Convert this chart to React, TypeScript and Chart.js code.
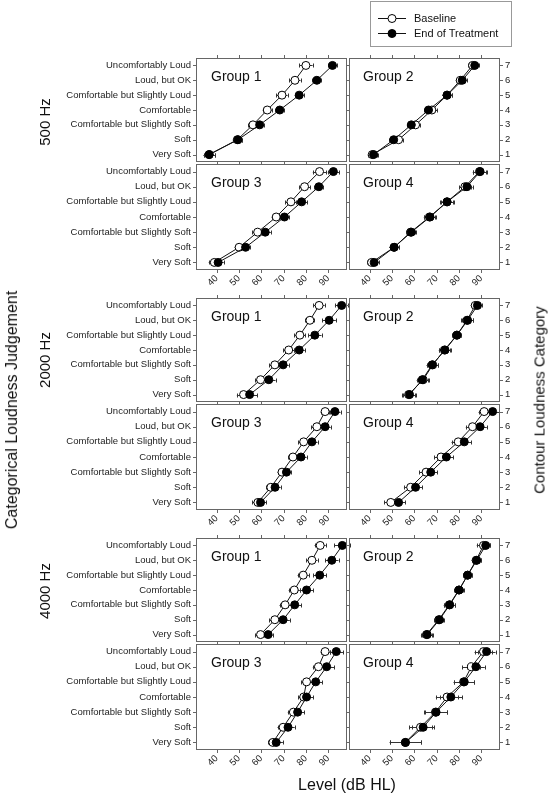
import React, { useEffect, useRef } from 'react';
import { Chart, registerables } from 'chart.js';

Chart.register(...registerables);

const FONT = '"Liberation Sans", Arial, Helvetica, sans-serif';
Chart.defaults.font.family = FONT;

// ---------- data ----------
const categoryLabels = [
  'Very Soft',
  'Soft',
  'Comfortable but Slightly Soft',
  'Comfortable',
  'Comfortable but Slightly Loud',
  'Loud, but OK',
  'Uncomfortably Loud',
];
const categoryNumbers = [1, 2, 3, 4, 5, 6, 7];
const levelTicks = [40, 50, 60, 70, 80, 90];
const frequencies = ['500 Hz', '2000 Hz', '4000 Hz'];
const groupNames = ['Group 1', 'Group 2', 'Group 3', 'Group 4'];
const seriesNames = ['Baseline', 'End of Treatment'];

// 500 Hz
const base500G1 = [36.7, 49.3, 56.3, 62.7, 69.3, 75.1, 80.0];
const end500G1 = [36.7, 49.6, 59.3, 68.3, 77.0, 84.9, 91.9];
const base500G2 = [41.2, 53.0, 60.6, 67.9, 74.7, 80.6, 86.1];
const end500G2 = [41.8, 50.8, 58.7, 66.4, 74.7, 81.5, 87.1];
const base500G3 = [39.0, 50.1, 58.4, 66.7, 73.3, 79.4, 86.1];
const end500G3 = [40.7, 53.0, 61.8, 70.4, 78.1, 85.8, 92.3];
const base500G4 = [40.9, 51.0, 58.4, 66.8, 74.7, 82.7, 89.2];
const end500G4 = [42.1, 51.0, 58.7, 67.1, 74.7, 83.6, 89.5];
// 2000 Hz
const base2000G1 = [52.1, 59.7, 66.1, 72.3, 77.3, 81.8, 85.9];
const end2000G1 = [54.8, 63.4, 69.8, 77.0, 84.0, 90.4, 96.0];
const base2000G2 = [57.5, 64.0, 68.3, 73.5, 79.1, 83.6, 87.3];
const end2000G2 = [57.9, 63.6, 68.0, 73.8, 79.1, 83.9, 88.3];
const base2000G3 = [58.5, 64.3, 69.3, 74.2, 79.0, 84.9, 88.6];
const end2000G3 = [59.7, 66.2, 71.3, 77.8, 82.7, 88.6, 93.0];
const base2000G4 = [49.5, 58.4, 65.3, 72.0, 79.7, 86.1, 91.3];
const end2000G4 = [53.0, 60.6, 67.4, 74.4, 82.4, 89.5, 95.1];
// 4000 Hz
const base4000G1 = [59.7, 66.1, 70.7, 74.8, 78.8, 82.7, 86.4];
const end4000G1 = [63.1, 69.8, 75.0, 80.3, 86.2, 91.6, 96.3];
const base4000G2 = [65.5, 71.0, 75.7, 80.0, 83.9, 87.7, 91.0];
const end4000G2 = [65.8, 71.3, 75.9, 80.1, 83.9, 88.0, 92.0];
const base4000G3 = [65.2, 69.8, 74.4, 79.0, 80.3, 85.6, 88.6];
const end4000G3 = [66.7, 72.0, 76.3, 80.3, 84.4, 89.3, 93.6];
const base4000G4 = [56.0, 62.8, 69.5, 74.7, 82.1, 85.6, 91.0];
const end4000G4 = [56.1, 64.0, 69.8, 76.4, 82.4, 87.6, 92.4];

// error bar half-widths (dB)
const baseErr500G1 = [2.5, 2, 2, 2, 2.5, 2.5, 3];
const endErr500G1 = [2.5, 2, 2, 2, 2, 2, 2];
const baseErr500G2 = [2, 2, 2, 2.5, 2, 2, 2];
const endErr500G2 = [2, 2, 2, 2, 2, 2, 2];
const baseErr500G3 = [2.5, 2, 2.5, 2, 2.5, 2.5, 3];
const endErr500G3 = [2.5, 2, 2.5, 2, 2.5, 2, 2.5];
const baseErr500G4 = [2, 2, 2, 2.5, 2.5, 2.5, 3];
const endErr500G4 = [2, 2, 2, 2.5, 3, 2.5, 3];
const baseErr2000G1 = [3, 2.5, 2.5, 2.5, 2.5, 2, 2.5];
const endErr2000G1 = [3.5, 3, 2.5, 2.5, 3, 3, 3];
const baseErr2000G2 = [3, 2.5, 2.5, 2.5, 2, 2.5, 2];
const endErr2000G2 = [3, 2.5, 2.5, 2.5, 2, 2.5, 2];
const baseErr2000G3 = [2.5, 2, 2, 2, 2.5, 2.5, 2];
const endErr2000G3 = [2.5, 2.5, 2, 2.5, 2.5, 2.5, 2.5];
const baseErr2000G4 = [3, 3, 3, 3, 3, 3, 2.5];
const endErr2000G4 = [3, 3, 3, 3, 3, 3, 3];
const baseErr4000G1 = [2.5, 2.5, 2.5, 2.5, 2.5, 2.5, 2.5];
const endErr4000G1 = [2, 3, 3, 3, 3, 3, 3.5];
const baseErr4000G2 = [2.5, 2, 2.5, 2, 2, 2, 3];
const endErr4000G2 = [2.5, 2, 2.5, 2, 2, 2, 2];
const baseErr4000G3 = [2, 2.5, 2.5, 2.5, 2.5, 2.5, 2];
const endErr4000G3 = [3, 3, 3, 3, 3, 3.5, 3];
const baseErr4000G4 = [7, 5, 5, 5, 4.5, 4, 4];
const endErr4000G4 = [7, 5, 5, 5, 4.5, 4, 4];

// ---------- layout constants ----------
const X_MIN = 30.8;
const X_MAX = 98.4;
const BLOCK_TOPS = [57, 297, 537];
const TOP_H = 106;
const BOT_H = 107;
const LEFT_PLOT_X = 196;
const PLOT_W = 152;
const PAD = 4;
const RIGHT_AXIS_W = 52;
const X_AXIS_H = 26;
const LINE_COLOR = '#111';
const FRAME_COLOR = '#666';

type PanelSpec = {
  block: number;
  row: number;
  col: number;
  group: string;
  base: number[];
  end: number[];
  baseErr: number[];
  endErr: number[];
};

const panels: PanelSpec[] = [
  { block: 0, row: 0, col: 0, group: groupNames[0], base: base500G1, end: end500G1, baseErr: baseErr500G1, endErr: endErr500G1 },
  { block: 0, row: 0, col: 1, group: groupNames[1], base: base500G2, end: end500G2, baseErr: baseErr500G2, endErr: endErr500G2 },
  { block: 0, row: 1, col: 0, group: groupNames[2], base: base500G3, end: end500G3, baseErr: baseErr500G3, endErr: endErr500G3 },
  { block: 0, row: 1, col: 1, group: groupNames[3], base: base500G4, end: end500G4, baseErr: baseErr500G4, endErr: endErr500G4 },
  { block: 1, row: 0, col: 0, group: groupNames[0], base: base2000G1, end: end2000G1, baseErr: baseErr2000G1, endErr: endErr2000G1 },
  { block: 1, row: 0, col: 1, group: groupNames[1], base: base2000G2, end: end2000G2, baseErr: baseErr2000G2, endErr: endErr2000G2 },
  { block: 1, row: 1, col: 0, group: groupNames[2], base: base2000G3, end: end2000G3, baseErr: baseErr2000G3, endErr: endErr2000G3 },
  { block: 1, row: 1, col: 1, group: groupNames[3], base: base2000G4, end: end2000G4, baseErr: baseErr2000G4, endErr: endErr2000G4 },
  { block: 2, row: 0, col: 0, group: groupNames[0], base: base4000G1, end: end4000G1, baseErr: baseErr4000G1, endErr: endErr4000G1 },
  { block: 2, row: 0, col: 1, group: groupNames[1], base: base4000G2, end: end4000G2, baseErr: baseErr4000G2, endErr: endErr4000G2 },
  { block: 2, row: 1, col: 0, group: groupNames[2], base: base4000G3, end: end4000G3, baseErr: baseErr4000G3, endErr: endErr4000G3 },
  { block: 2, row: 1, col: 1, group: groupNames[3], base: base4000G4, end: end4000G4, baseErr: baseErr4000G4, endErr: endErr4000G4 },
];

function geometry(p: PanelSpec) {
  const isLeft = p.col === 0;
  const isBottom = p.row === 1;
  const plotTop = BLOCK_TOPS[p.block] + (isBottom ? TOP_H : 0);
  const plotH = isBottom ? BOT_H : TOP_H;
  const plotLeft = isLeft ? LEFT_PLOT_X : LEFT_PLOT_X + PLOT_W;
  const canvasLeft = isLeft ? 0 : plotLeft - PAD;
  const canvasWidth = isLeft ? LEFT_PLOT_X + PLOT_W + PAD : PAD + PLOT_W + RIGHT_AXIS_W;
  const canvasTop = plotTop - PAD;
  const canvasHeight = PAD + plotH + (isBottom ? X_AXIS_H : PAD);
  return { isLeft, isBottom, plotTop, plotH, plotLeft, canvasLeft, canvasWidth, canvasTop, canvasHeight };
}

const errorBarPlugin = {
  id: 'errorBars',
  beforeDatasetsDraw(chart: any) {
    const { ctx, scales } = chart;
    const xs = scales.x;
    const ys = scales.y;
    ctx.save();
    ctx.strokeStyle = '#333';
    ctx.lineWidth = 1;
    chart.data.datasets.forEach((ds: any) => {
      ds.data.forEach((pt: any, i: number) => {
        const e = ds.errors[i];
        const x1 = xs.getPixelForValue(pt.x - e);
        const x2 = xs.getPixelForValue(pt.x + e);
        const py = Math.round(ys.getPixelForValue(pt.y)) + 0.5;
        ctx.beginPath();
        ctx.moveTo(x1, py);
        ctx.lineTo(x2, py);
        ctx.moveTo(Math.round(x1) + 0.5, py - 2);
        ctx.lineTo(Math.round(x1) + 0.5, py + 2);
        ctx.moveTo(Math.round(x2) + 0.5, py - 2);
        ctx.lineTo(Math.round(x2) + 0.5, py + 2);
        ctx.stroke();
      });
    });
    ctx.restore();
  },
};

const framePlugin = {
  id: 'frame',
  afterDraw(chart: any) {
    const { ctx, chartArea, scales } = chart;
    const { left, right, top, bottom } = chartArea;
    const xs = scales.x;
    const ys = scales.y;
    ctx.save();
    ctx.strokeStyle = FRAME_COLOR;
    ctx.lineWidth = 1;
    ctx.strokeRect(left + 0.5, top + 0.5, right - left - 1, bottom - top - 1);
    ctx.beginPath();
    const T = 3;
    levelTicks.forEach((v) => {
      const px = Math.round(xs.getPixelForValue(v)) + 0.5;
      ctx.moveTo(px, top);
      ctx.lineTo(px, top - T);
      ctx.moveTo(px, bottom);
      ctx.lineTo(px, bottom + T);
    });
    categoryNumbers.forEach((v) => {
      const py = Math.round(ys.getPixelForValue(v)) + 0.5;
      ctx.moveTo(left, py);
      ctx.lineTo(left - T, py);
      ctx.moveTo(right, py);
      ctx.lineTo(right + T, py);
    });
    ctx.stroke();
    ctx.restore();
  },
};

function Panel({ spec }: { spec: PanelSpec }) {
  const ref = useRef<HTMLCanvasElement>(null);
  const g = geometry(spec);
  useEffect(() => {
    if (!ref.current) return;
    const isLeft = g.isLeft;
    const isBottom = g.isBottom;
    const chart = new Chart(ref.current, {
      type: 'line',
      data: {
        datasets: [
          {
            label: seriesNames[1],
            data: spec.end.map((x, i) => ({ x, y: categoryNumbers[i] })),
            errors: spec.endErr,
            borderColor: LINE_COLOR,
            borderWidth: 1,
            pointRadius: 4,
            pointBackgroundColor: '#000',
            pointBorderColor: '#000',
            pointBorderWidth: 1,
            tension: 0,
          } as any,
          {
            label: seriesNames[0],
            data: spec.base.map((x, i) => ({ x, y: categoryNumbers[i] })),
            errors: spec.baseErr,
            borderColor: LINE_COLOR,
            borderWidth: 1,
            pointRadius: 4,
            pointBackgroundColor: '#fff',
            pointBorderColor: '#000',
            pointBorderWidth: 1,
            tension: 0,
          } as any,
        ],
      },
      options: {
        animation: false,
        responsive: false,
        events: [],
        layout: {
          padding: {
            left: isLeft ? 0 : PAD,
            right: isLeft ? PAD : 0,
            top: PAD,
            bottom: isBottom ? 0 : PAD,
          },
        },
        plugins: { legend: { display: false }, tooltip: { enabled: false } },
        scales: {
          x: {
            type: 'linear',
            min: X_MIN,
            max: X_MAX,
            display: isBottom,
            position: 'bottom',
            afterBuildTicks: (s: any) => {
              s.ticks = levelTicks.map((v) => ({ value: v }));
            },
            afterFit: (s: any) => {
              s.height = isBottom ? X_AXIS_H : 0;
              s.paddingLeft = 0;
              s.paddingRight = 0;
              s.paddingTop = 0;
              s.paddingBottom = 0;
            },
            grid: { display: false, drawTicks: false },
            border: { display: false },
            ticks: {
              autoSkip: false,
              minRotation: 45,
              maxRotation: 45,
              padding: 3,
              color: '#222',
              font: { size: 9.5 },
              callback: (v: any) => String(v),
            },
          },
          y: {
            type: 'linear',
            min: 0.5,
            max: 7.5,
            position: isLeft ? 'left' : 'right',
            afterBuildTicks: (s: any) => {
              s.ticks = categoryNumbers.map((v) => ({ value: v }));
            },
            afterFit: (s: any) => {
              s.width = isLeft ? LEFT_PLOT_X : RIGHT_AXIS_W;
              s.paddingTop = 0;
              s.paddingBottom = 0;
              s.paddingLeft = 0;
              s.paddingRight = 0;
            },
            grid: { display: false, drawTicks: false },
            border: { display: false },
            ticks: {
              autoSkip: false,
              padding: 5,
              color: '#222',
              font: { size: 9.5 },
              callback: (v: any) => (isLeft ? categoryLabels[Number(v) - 1] : String(v)),
            },
          },
        },
      } as any,
      plugins: [errorBarPlugin, framePlugin],
    });
    return () => chart.destroy();
  }, []);
  return (
    <>
      <canvas
        ref={ref}
        width={g.canvasWidth}
        height={g.canvasHeight}
        style={{
          position: 'absolute',
          left: g.canvasLeft,
          top: g.canvasTop,
          width: g.canvasWidth,
          height: g.canvasHeight,
        }}
      />
      <div
        style={{
          position: 'absolute',
          left: g.plotLeft + 15,
          top: g.plotTop + 19,
          transform: 'translateY(-50%)',
          fontSize: 14,
          lineHeight: '16px',
          color: '#111',
          whiteSpace: 'nowrap',
        }}
      >
        {spec.group}
      </div>
    </>
  );
}

function RotatedText({ text, cx, cy, size }: { text: string; cx: number; cy: number; size: number }) {
  return (
    <div
      style={{
        position: 'absolute',
        left: cx,
        top: cy,
        transform: 'translate(-50%, -50%) rotate(-90deg)',
        fontSize: size,
        lineHeight: `${size + 2}px`,
        whiteSpace: 'nowrap',
        color: '#111',
      }}
    >
      {text}
    </div>
  );
}

const freqCenters = [122, 360, 591];

export default function App() {
  return (
    <div
      style={{
        position: 'absolute',
        left: 0,
        top: 0,
        width: 552,
        height: 800,
        background: '#fff',
        fontFamily: FONT,
        overflow: 'hidden',
      }}
    >
      {panels.map((p, i) => (
        <Panel key={i} spec={p} />
      ))}
      {frequencies.map((f, i) => (
        <RotatedText key={f} text={f} cx={44} cy={freqCenters[i]} size={15} />
      ))}
      <RotatedText text="Categorical Loudness Judgement" cx={12} cy={410} size={16} />
      <RotatedText text="Contour Loudness Category" cx={539} cy={400} size={15} />
      <div
        style={{
          position: 'absolute',
          left: 347,
          top: 785,
          transform: 'translate(-50%, -50%)',
          fontSize: 16,
          lineHeight: '18px',
          whiteSpace: 'nowrap',
          color: '#111',
        }}
      >
        Level (dB HL)
      </div>
      {/* legend */}
      <div
        style={{
          position: 'absolute',
          left: 370,
          top: 1,
          width: 140,
          height: 44,
          border: '1px solid #999',
          background: '#fff',
        }}
      >
        {seriesNames.map((name, i) => (
          <div
            key={name}
            style={{
              position: 'absolute',
              left: 7,
              top: 15 * i + 8,
              height: 16,
              display: 'flex',
              alignItems: 'center',
              fontSize: 11,
              color: '#111',
              whiteSpace: 'nowrap',
            }}
          >
            <svg width={30} height={12} style={{ marginRight: 6 }}>
              <line x1={0} y1={6.5} x2={28} y2={6.5} stroke="#111" strokeWidth={1} />
              <circle cx={14} cy={6.5} r={4} fill={i === 0 ? '#fff' : '#000'} stroke="#000" strokeWidth={1} />
            </svg>
            {name}
          </div>
        ))}
      </div>
    </div>
  );
}
